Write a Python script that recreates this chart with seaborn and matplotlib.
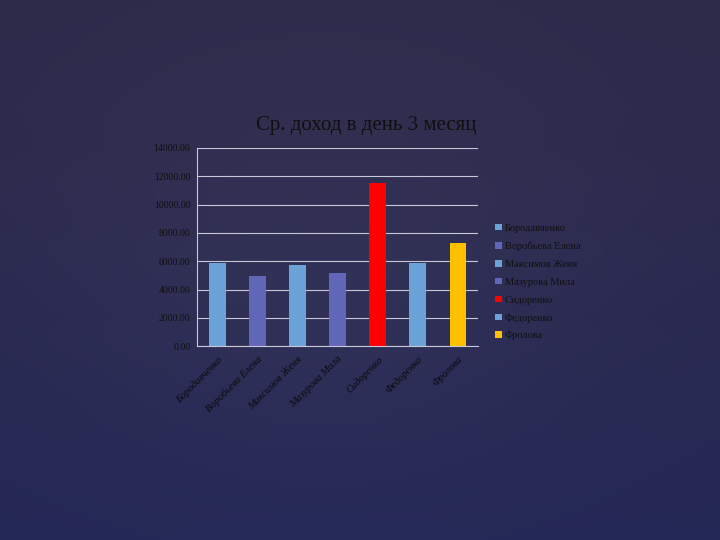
import numpy as np
import pandas as pd
import matplotlib
matplotlib.use('Agg')
import matplotlib.pyplot as plt
import seaborn as sns
from matplotlib.ticker import FormatStrFormatter, FixedLocator

# Data
names = ['Бородавченко', 'Воробьева Елена', 'Максимов Женя', 'Мазурова Мила',
         'Сидоренко', 'Федоренко', 'Фролова']
income = [5880, 4950, 5740, 5170, 11550, 5880, 7300]
colors = ['#6aa3d8', '#6166b9', '#6aa3d8', '#6166b9', '#ff0000', '#6aa3d8', '#ffc000']
title = 'Ср. доход в день 3 месяц'

df = pd.DataFrame({'name': names, 'income': income})

sns.set_style('white')
plt.rcParams['font.family'] = ['Liberation Serif', 'DejaVu Serif']

fig = plt.figure(figsize=(7.2, 5.4), dpi=100)

# dark navy slide background
bg = fig.add_axes([0, 0, 1, 1])
yy, xx = np.mgrid[0:1:200j, 0:1:200j]
top = np.array([46, 42, 74]) / 255
bot = np.array([36, 40, 86]) / 255
t = (yy ** 1.3)[..., None]
img = top * (1 - t) + bot * t
glow = np.exp(-((xx - 0.45) ** 2 + (yy - 0.5) ** 2) / 0.15)[..., None]
img = np.clip(img + glow * 0.03, 0, 1)
bg.imshow(img, aspect='auto', extent=[0, 1, 0, 1], origin='upper')
bg.axis('off')

ax = fig.add_axes([0.274, 0.359, 0.39, 0.367])
ax.patch.set_alpha(0)
sns.barplot(data=df, x='name', y='income', hue='name', palette=colors,
            width=0.42, dodge=False, legend=True, ax=ax, saturation=1,
            linewidth=0)

ax.set_ylim(0, 14000)
ax.set_yticks(np.arange(0, 14001, 2000))
ax.yaxis.set_major_formatter(FormatStrFormatter('%.2f'))
ax.grid(axis='y', color='#c8c8d8', linewidth=0.8)
ax.set_axisbelow(True)
ax.set_xlabel('')
ax.set_ylabel('')
for s in ['top', 'right']:
    ax.spines[s].set_visible(False)
for s in ['left', 'bottom']:
    ax.spines[s].set_color('#c8c8d8')
    ax.spines[s].set_linewidth(0.8)
ax.tick_params(axis='y', labelsize=7, colors='#101010', length=3, color='#c8c8d8', pad=2)
ax.set_xticks(range(len(names)))
ax.set_xticklabels(names, rotation=45, ha='right', rotation_mode='anchor',
                   fontsize=7.5, color='#0a0a0a', style='italic')
ax.tick_params(axis='x', length=0, pad=6)
ax.xaxis.set_minor_locator(FixedLocator(np.arange(-0.5, len(names), 1)))
ax.tick_params(axis='x', which='minor', length=3, color='#c8c8d8')
ax.set_xlim(-0.5, len(names) - 0.5)

handles, labels = ax.get_legend_handles_labels()
for h in handles:
    h.set_linewidth(0)
ax.get_legend().remove()
fig.legend(handles, labels, loc='upper left', bbox_to_anchor=(0.675, 0.603),
           frameon=False, fontsize=7.5, labelcolor='#101010',
           handlelength=0.6, handleheight=0.6, handletextpad=0.3,
           labelspacing=0.85)

fig.text(0.508, 0.767, title, ha='center', va='center', fontsize=15,
         color='#101010')

fig.savefig('out.png', dpi=100)
